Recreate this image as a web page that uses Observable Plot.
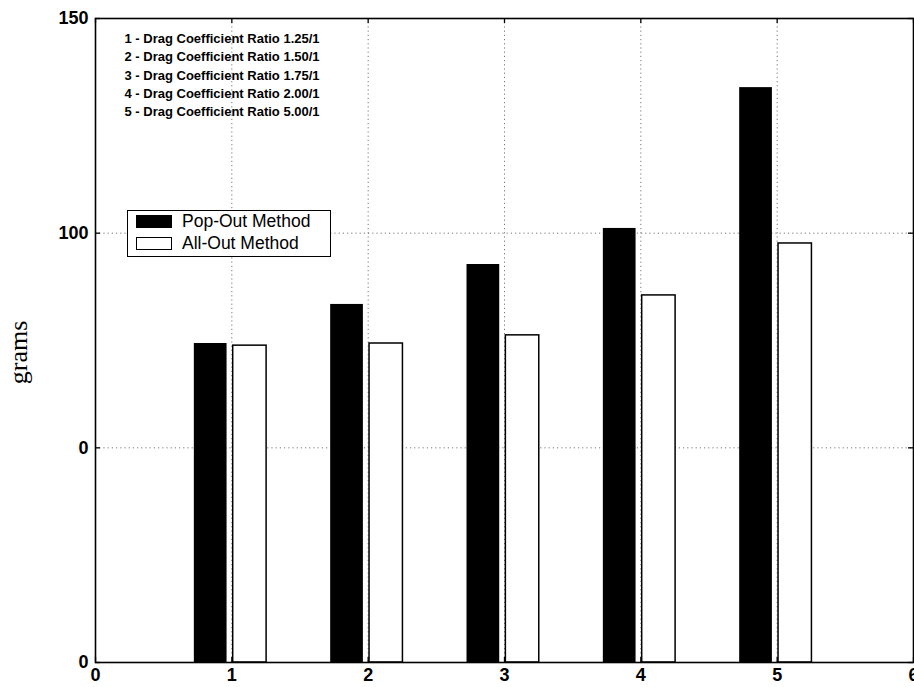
<!DOCTYPE html>
<html>
<head>
<meta charset="utf-8">
<script src="https://cdn.jsdelivr.net/npm/d3@7"></script>
<script src="https://cdn.jsdelivr.net/npm/@observablehq/plot@0.6"></script>
<style>
  html, body { margin: 0; padding: 0; background: #fff; overflow: hidden; }
  #wrap { position: relative; width: 914px; height: 687px; }
  #legend {
    position: absolute; left: 127px; top: 210px; width: 204px; height: 47px;
    border: 1.5px solid #000; background: #fff; box-sizing: border-box;
    font-family: "Liberation Sans", Arial, sans-serif; font-size: 17.5px; color: #000;
  }
  .row { position: absolute; left: 8px; height: 18px; display: flex; align-items: center; }
  .sw { width: 36px; height: 13px; box-sizing: border-box; border: 1.5px solid #000; margin-right: 10px; }
  .lbl { line-height: 18px; white-space: nowrap; }
</style>
</head>
<body>
<div id="wrap"></div>
<script>
// ---- data ----
const categories = [1, 2, 3, 4, 5];
const popOut = [74.3, 83.4, 92.7, 101.1, 133.9];
const allOut = [73.8, 74.3, 76.2, 85.5, 97.6];
const seriesNames = ["Pop-Out Method", "All-Out Method"];
const xTicks = [0, 1, 2, 3, 4, 5, 6];
const xTickLabels = ["0", "1", "2", "3", "4", "5", "6"];
const yTicks = [0, 50, 100, 150];
const yTickLabels = ["0", "0", "100", "150"];
const noteLines = [
  "1 - Drag Coefficient Ratio 1.25/1",
  "2 - Drag Coefficient Ratio 1.50/1",
  "3 - Drag Coefficient Ratio 1.75/1",
  "4 - Drag Coefficient Ratio 2.00/1",
  "5 - Drag Coefficient Ratio 5.00/1"
];
const yLabel = "grams";

const popData = categories.map((c, i) => ({cat: c, value: popOut[i]}));
const allData = categories.map((c, i) => ({cat: c, value: allOut[i]}));

const sans = '"Liberation Sans", Arial, sans-serif';
const gridStyle = {stroke: "#777", strokeWidth: 1, strokeDasharray: "1.2,3"};

const chart = Plot.plot({
  width: 914,
  height: 687,
  marginLeft: 95,
  marginRight: 1,
  marginTop: 18,
  marginBottom: 25,
  style: {background: "#fff", fontFamily: sans, color: "#000"},
  x: {domain: [0, 6]},
  y: {domain: [0, 150]},
  marks: [
    Plot.ruleX(xTicks, {...gridStyle}),
    Plot.ruleY(yTicks, {...gridStyle}),
    Plot.rect(popData, {x1: d => d.cat - 0.275, x2: d => d.cat - 0.035, y1: 0, y2: "value", fill: "#000"}),
    Plot.rect(allData, {x1: d => d.cat + 0.01, x2: d => d.cat + 0.255, y1: 0, y2: "value", fill: "#fff", stroke: "#000", strokeWidth: 1.5}),
    // inward tick marks
    Plot.ruleX(xTicks, {y1: 0, y2: 0, insetTop: -5, stroke: "#000", strokeWidth: 1.3}),
    Plot.ruleX(xTicks, {y1: 150, y2: 150, insetBottom: -5, stroke: "#000", strokeWidth: 1.3}),
    Plot.ruleY(yTicks, {x1: 0, x2: 0, insetRight: -5, stroke: "#000", strokeWidth: 1.3}),
    Plot.ruleY(yTicks, {x1: 6, x2: 6, insetLeft: -5, stroke: "#000", strokeWidth: 1.3}),
    Plot.frame({stroke: "#000", strokeWidth: 1.6}),
    Plot.axisX({ticks: xTicks, tickSize: 0, tickPadding: 6, fontSize: 18, fontWeight: "bold", label: null,
      tickFormat: d => xTickLabels[xTicks.indexOf(d)]}),
    Plot.axisY({ticks: yTicks, tickSize: 0, tickPadding: 7, fontSize: 18, fontWeight: "bold", label: null,
      tickFormat: d => yTickLabels[yTicks.indexOf(d)]}),
    Plot.text([noteLines.join("\n")], {frameAnchor: "top-left", dx: 29, dy: 11, lineHeight: 1.42,
      fontSize: 13, fontWeight: "bold", textAnchor: "start", fill: "#000"}),
    Plot.text([yLabel], {frameAnchor: "left", dx: -77, dy: 12, rotate: -90, fontSize: 26, textAnchor: "middle",
      fontFamily: '"Liberation Serif", "Times New Roman", serif', fill: "#000"})
  ]
});

const wrap = document.getElementById("wrap");
wrap.appendChild(chart);

// legend box
const legend = document.createElement("div");
legend.id = "legend";
const fills = ["#000", "#fff"];
seriesNames.forEach((name, i) => {
  const row = document.createElement("div");
  row.className = "row";
  row.style.top = (i === 0 ? 1 : 23) + "px";
  const sw = document.createElement("div");
  sw.className = "sw";
  sw.style.background = fills[i];
  const lbl = document.createElement("span");
  lbl.className = "lbl";
  lbl.textContent = name;
  row.appendChild(sw);
  row.appendChild(lbl);
  legend.appendChild(row);
});
wrap.appendChild(legend);
</script>
</body>
</html>
